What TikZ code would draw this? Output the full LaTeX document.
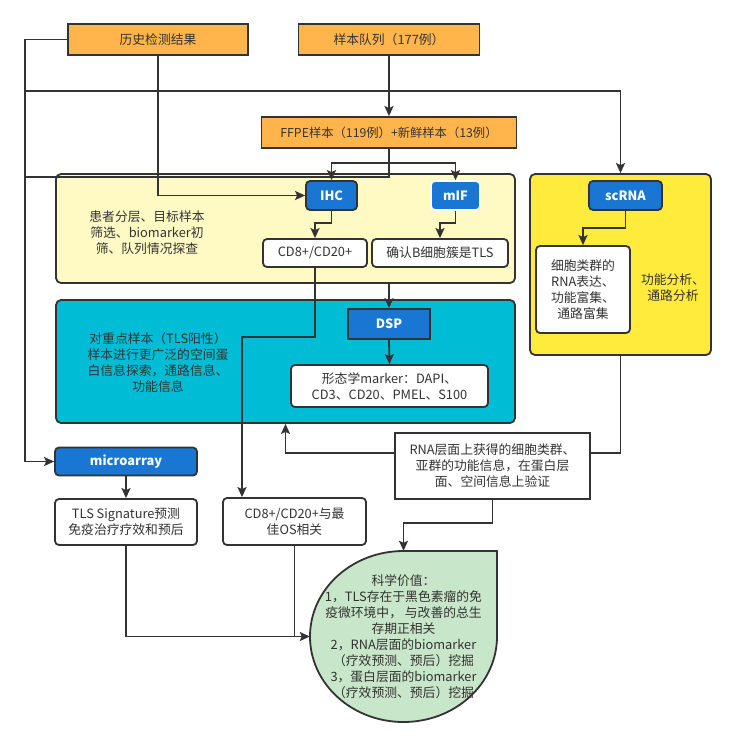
\documentclass[tikz,border=0pt]{standalone}
\usepackage{fontspec}
\setmainfont{Noto Sans CJK SC}
\usetikzlibrary{arrows.meta}
\definecolor{linegray}{RGB}{51,51,51}
\definecolor{txtgray}{RGB}{51,51,51}
\definecolor{orangefill}{RGB}{255,181,76}
\definecolor{bluefill}{RGB}{25,118,210}
\definecolor{paleyellow}{RGB}{255,249,196}
\definecolor{tealfill}{RGB}{0,188,212}
\definecolor{brightyellow}{RGB}{255,235,59}
\definecolor{palegreen}{RGB}{200,230,201}

\begin{document}
\begin{tikzpicture}[x=1pt,y=-1pt,
        every node/.style={text=txtgray,font=\fontsize{12.8}{16}\selectfont,align=center,inner sep=0pt},
        box/.style={draw=linegray,line width=1.8pt,fill=white,rounded corners=4pt},
        flatbox/.style={draw=linegray,line width=1.8pt,fill=white},
        orangebox/.style={draw=linegray,line width=1.8pt,fill=orangefill},
        bluebox/.style={draw=linegray,line width=1.8pt,fill=bluefill,rounded corners=4pt,text=white,font=\fontsize{12.8}{16}\selectfont\bfseries},
        group/.style={draw=linegray,line width=1.8pt,rounded corners=5pt},
        conn/.style={draw=linegray,line width=1.8pt},
        arr/.style={conn,-{Stealth[length=10pt,width=9pt,inset=2pt]}}]
        \useasboundingbox (0,0) rectangle (739,747);

        \node[group,fill=paleyellow,minimum width=459pt,minimum height=109pt] (ihcgrp) at (285.5,228.5) {};
        \node[group,fill=tealfill,minimum width=459pt,minimum height=123pt] (dspgrp) at (285.5,361.5) {};
        \node[group,fill=brightyellow,minimum width=181pt,minimum height=181pt] (scgrp) at (620.5,264.5) {};

        \node (ihctxt) at (147,233) {患者分层、目标样本\\筛选、biomarker初\\筛、队列情况探查};
        \node (dsptxt) at (158,363) {对重点样本（TLS阳性）\\样本进行更广泛的空间蛋\\白信息探索，通路信息、\\功能信息};
        \node (sctxt) at (673,288) {功能分析、\\通路分析};

        \node[orangebox,minimum width=180pt,minimum height=31pt] (hist) at (158,39.5) {历史检测结果};
        \node[orangebox,minimum width=181pt,minimum height=31pt] (cohort) at (389,39.5) {样本队列（177例）};
        \node[orangebox,minimum width=255pt,minimum height=31pt,font=\fontsize{12.3}{16}\selectfont] (ffpe) at (389,132.5) {FFPE样本（119例）+新鲜样本（13例）};

        \node[bluebox,minimum width=51pt,minimum height=29pt] (ihc) at (331.5,195.5) {IHC};
        \node[bluebox,draw=white,minimum width=49pt,minimum height=29pt] (mif) at (455.5,195.5) {mIF};
        \node[box,minimum width=104pt,minimum height=28pt] (cdpos) at (315,253) {CD8+/CD20+};
        \node[box,minimum width=136pt,minimum height=28pt] (bcell) at (440,253) {确认B细胞簇是TLS};

        \node[bluebox,rounded corners=0pt,minimum width=82pt,minimum height=30pt] (dsp) at (389,324) {DSP};
        \node[box,minimum width=197pt,minimum height=42pt] (morph) at (389.5,386) {形态学marker：DAPI、\\CD3、CD20、PMEL、S100};

        \node[bluebox,minimum width=73pt,minimum height=29pt] (scrna) at (625.5,195.5) {scRNA};
        \node[box,minimum width=94pt,minimum height=87pt] (rnaexpr) at (583,289.5) {细胞类群的\\RNA表达、\\功能富集、\\通路富集};

        \node[flatbox,minimum width=195pt,minimum height=66pt] (rnaval) at (492.5,466) {RNA层面上获得的细胞类群、\\亚群的功能信息，在蛋白层\\面、空间信息上验证};

        \node[bluebox,minimum width=142pt,minimum height=28pt] (micro) at (126,461.5) {microarray};
        \node[box,minimum width=142pt,minimum height=46pt] (tlssig) at (126,522) {TLS Signature预测\\免疫治疗疗效和预后};
        \node[box,minimum width=143pt,minimum height=47pt] (cdos) at (294.5,521.5) {CD8+/CD20+与最\\佳OS相关};

        \draw[line width=1.8pt,draw=linegray,fill=palegreen] (403.5,551) -- (497,551) -- (497,636.5)
            arc[start angle=0,end angle=-270,x radius=93.5pt,y radius=85.5pt] -- cycle;
        \node[minimum width=187pt,minimum height=171pt] (value) at (403.5,636.5) {科学价值：\\1，TLS存在于黑色素瘤的免\\疫微环境中， 与改善的总生\\存期正相关\\2，RNA层面的biomarker\\（疗效预测、预后）挖掘\\3，蛋白层面的biomarker\\（疗效预测、预后）挖掘};

        \coordinate (lx) at (25,0);
        \coordinate (topbus) at (0,91);
        \coordinate (fork) at (0,163);
        \coordinate (ffbus) at (0,177);
        \coordinate (split) at (0,223);
        \coordinate (cdjog) at (242,337);
        \coordinate (scsplit) at (0,228);
        \coordinate (valjog) at (0,523);

        \draw[arr] (hist.west) -| (lx |- micro.west) -- (micro.west);
        \draw[arr] (lx |- topbus) -| (scgrp.north);
        \draw[arr] (hist.south) |- (ihc.west);
        \draw[arr] (cohort.south) -- (ffpe.north);
        \draw[arr] (ffpe.south) -- (ffpe.south |- fork) -| (ihc.north);
        \draw[arr] (ffpe.south |- fork) -| (mif.north);
        \draw[conn] (ffpe.south) |- (lx |- ffbus);

        \draw[arr] (ihc.south) -- (ihc.south |- split) -| (cdpos.north);
        \draw[arr] (mif.south) -- (mif.south |- split) -| (bcell.north);
        \draw[arr] (cdpos.south) |- (cdjog) -- (cdjog |- cdos.north);
        \draw[arr] (dsp.north |- ihcgrp.south) -- (dsp.north);
        \draw[arr] (dsp.south) -- (morph.north);

        \draw[arr] (scrna.south) -- (scrna.south |- scsplit) -| (rnaexpr.north);
        \draw[conn] (scgrp.south) |- ([yshift=13pt]rnaval.east);
        \draw[arr] ([yshift=13pt]rnaval.west) -| (dspgrp.south);
        \draw[arr] (rnaval.south) -- (rnaval.south |- valjog) -| (value.north);

        \draw[arr] (micro.south) -- (tlssig.north);
        \draw[arr] (tlssig.south) |- (value.west);
        \draw[conn] (cdos.south) -- (cdos.south |- value.west);
    \end{tikzpicture}
\end{document}
